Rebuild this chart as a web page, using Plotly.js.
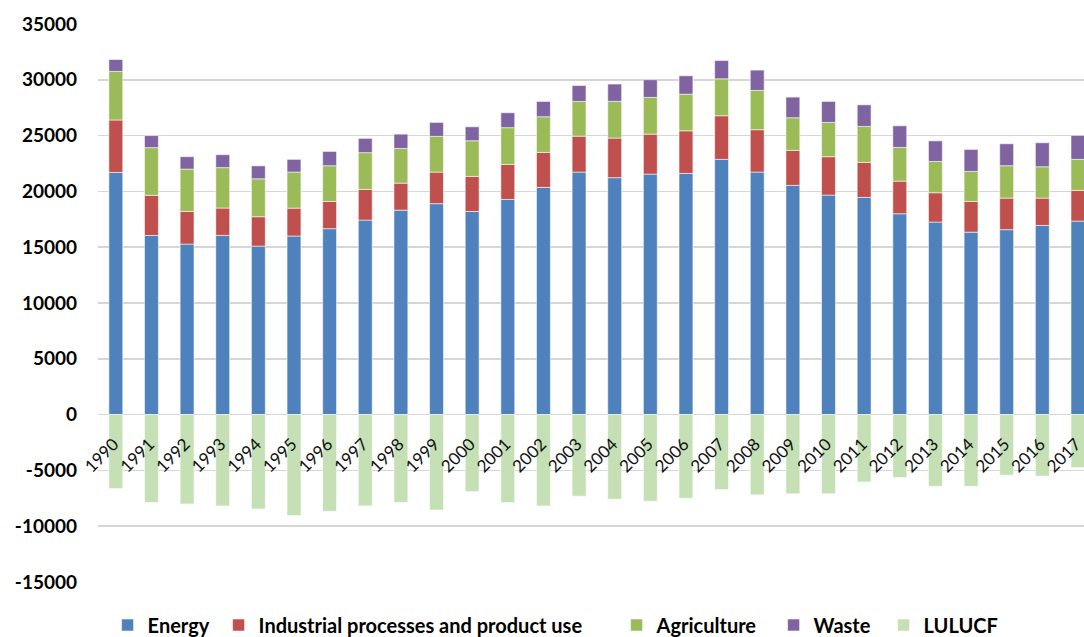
<!DOCTYPE html>
<html>
<head>
<meta charset="utf-8">
<script src="https://cdn.plot.ly/plotly-3.0.1.min.js"></script>
<style>
html,body{margin:0;padding:0;background:#fff;}
#chart{width:1084px;height:637px;}
</style>
</head>
<body>
<div id="chart"></div>
<script>
const years = ["1990","1991","1992","1993","1994","1995","1996","1997","1998","1999","2000","2001","2002","2003","2004","2005","2006","2007","2008","2009","2010","2011","2012","2013","2014","2015","2016","2017"];
const energy = [21700,16050,15280,16060,15100,16000,16660,17430,18320,18900,18200,19280,20360,21730,21230,21550,21610,22870,21730,20540,19670,19460,18000,17250,16350,16570,16950,17340];
const industrial = [4700,3600,2930,2450,2630,2500,2440,2750,2420,2830,3140,3140,3130,3220,3550,3580,3820,3910,3800,3130,3440,3140,2920,2630,2750,2830,2450,2750];
const agriculture = [4350,4270,3790,3620,3400,3230,3200,3290,3110,3200,3200,3290,3200,3110,3290,3290,3280,3310,3520,2930,3070,3220,3020,2800,2690,2900,2810,2780];
const waste = [1070,1080,1110,1160,1160,1140,1280,1280,1280,1250,1250,1340,1370,1430,1550,1590,1650,1640,1820,1850,1880,1940,1940,1850,1970,1970,2150,2150];
const lulucf = [-6630,-7880,-8000,-8180,-8450,-9050,-8660,-8180,-7880,-8540,-6900,-7880,-8180,-7310,-7580,-7760,-7490,-6720,-7190,-7100,-7100,-6030,-5640,-6420,-6420,-5430,-5520,-4750];
const yTickVals = [-15000,-10000,-5000,0,5000,10000,15000,20000,25000,30000,35000];
const yTickText = ["-15000","-10000","-5000","0","5000","10000","15000","20000","25000","30000","35000"];

const edge = {color:'rgba(255,255,255,0.7)', width:0.8};
function tr(name, vals, color, leg){
  return {type:'bar', name:name, x:years, y:vals, legend:leg, marker:{color:color, line:edge}, hoverinfo:'x+y+name'};
}
const data = [
  tr('Energy', energy, '#4F81BD', 'legend'),
  tr('Industrial processes and product use', industrial, '#C0504D', 'legend2'),
  tr('Agriculture', agriculture, '#9BBB59', 'legend3'),
  tr('Waste', waste, '#8064A2', 'legend4'),
  tr('LULUCF', lulucf, '#C4E0B4', 'legend5')
];
const legFont = {family:'Lato, sans-serif', size:20, color:'#000', weight:'bold'};
function leg(xpx){
  return {orientation:'h', xref:'container', yref:'container', x:xpx/1084, xanchor:'left',
          y:12/637, yanchor:'middle', font:legFont, itemwidth:30, bgcolor:'rgba(0,0,0,0)'};
}
const layout = {
  width:1084, height:637,
  margin:{l:98, r:0, t:24, b:55, pad:0},
  paper_bgcolor:'#ffffff', plot_bgcolor:'#ffffff',
  barmode:'relative', bargap:0.61,
  font:{family:'Lato, "Open Sans", sans-serif', color:'#000'},
  xaxis:{type:'category', range:[-0.5,27.17], anchor:'free', position:0.3009,
         showgrid:false, showline:false, zeroline:false, ticks:'', tickangle:-45,
         tickfont:{family:'Lato, sans-serif', size:17, color:'#111'}, automargin:false,
         ticklabelstandoff:16, ticklabelshift:-2},
  yaxis:{range:[-15000,35000], tickvals:yTickVals, ticktext:yTickText,
         showgrid:true, gridcolor:'#d6d6d6', gridwidth:1.5, zeroline:false, showline:false,
         ticks:'', ticklabelstandoff:20, automargin:false,
         tickfont:{family:'Lato, sans-serif', size:19, color:'#000', weight:'bold'}},
  showlegend:true,
  legend:leg(107.6),
  legend2:leg(218.6),
  legend3:leg(616.6),
  legend4:leg(773.6),
  legend5:leg(883.6)
};
Plotly.newPlot('chart', data, layout, {displayModeBar:false, staticPlot:true});
</script>
</body>
</html>
